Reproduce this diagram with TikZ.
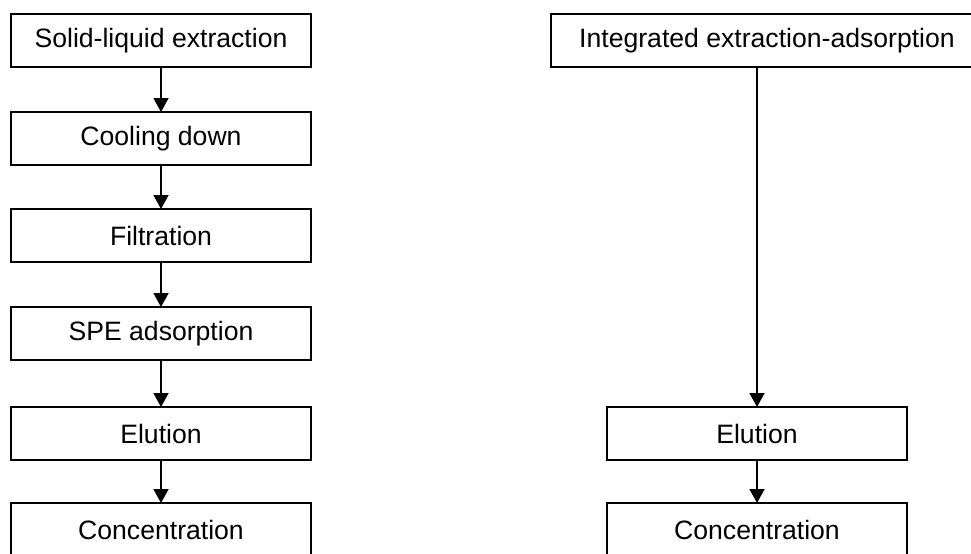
\documentclass[tikz,border=0pt]{standalone}
\usepackage{fontspec}
\setmainfont{Liberation Sans}
\usetikzlibrary{arrows.meta}
\begin{document}
\begin{tikzpicture}[x=0.5pt,y=-0.5pt,
  stepbox/.style={draw=black, line width=1pt, minimum width=150pt, minimum height=26.5pt, inner sep=0pt, outer sep=0pt, font=\fontsize{13.3}{16}\selectfont},
  cutbox/.style={stepbox, minimum height=0pt, text height=18pt, text depth=22pt, anchor=north},
  flow/.style={line width=0.85pt, -{Triangle[length=7pt,width=7.5pt]}}]
\useasboundingbox (0,0) rectangle (971,553);
\clip (0,0) rectangle (971,553);
\node[stepbox] (a1) at (161,40.5) {Solid-liquid extraction};
\node[stepbox] (a2) at (161,138.5) {Cooling down};
\node[stepbox] (a3) at (161,235.5) {Filtration};
\node[stepbox] (a4) at (161,333.5) {SPE adsorption};
\node[stepbox] (a5) at (161,433.5) {Elution};
\node[cutbox] (a6) at (161,503) {Concentration};
\draw[flow] (a1) -- (a2);
\draw[flow] (a2) -- (a3);
\draw[flow] (a3) -- (a4);
\draw[flow] (a4) -- (a5);
\draw[flow] (a5) -- (a6);
\node[stepbox, minimum width=216pt] (b1) at (767,40.5) {Integrated extraction-adsorption};
\node[stepbox] (b2) at (757,433.5) {Elution};
\node[cutbox] (b3) at (757,503) {Concentration};
\draw[flow] (b2.north |- b1.south) -- (b2.north);
\draw[flow] (b2) -- (b3);
\end{tikzpicture}
\end{document}
